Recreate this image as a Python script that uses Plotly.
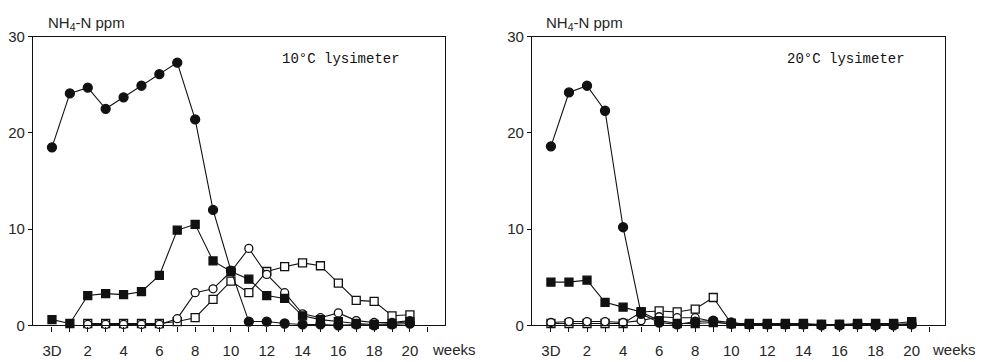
import plotly.graph_objects as go
from plotly.subplots import make_subplots

# Sampling times: 3 days (shown as "3D"), then weeks 1..20
weeks = list(range(0, 21))
label_vals = list(range(0, 21, 2))
label_text = ["3D"] + [str(w) for w in label_vals[1:]]
minor_vals = list(range(1, 22, 2))

# NH4-N (ppm) in leachate, 10 °C lysimeter
c10_filled_circle = [18.5, 24.1, 24.7, 22.5, 23.7, 24.9, 26.1, 27.3, 21.4, 12.0, 5.7,
                     0.4, 0.4, 0.2, 0.1, 0.1, 0.0, 0.1, 0.0, 0.1, 0.2]
c10_filled_square = [0.6, 0.2, 3.1, 3.3, 3.2, 3.5, 5.2, 9.9, 10.5, 6.7, 5.6,
                     4.8, 3.1, 2.8, 1.0, 0.6, 0.4, 0.2, 0.1, 0.2, 0.4]
c10_open_circle = [None, None, 0.1, 0.1, 0.1, 0.1, 0.1, 0.7, 3.4, 3.8, 5.6,
                   8.0, 5.3, 3.4, 1.2, 0.8, 1.3, 0.5, 0.3, 0.3, 0.5]
c10_open_square = [None, None, 0.2, 0.2, 0.2, 0.2, 0.2, 0.4, 0.8, 2.7, 4.6,
                   3.4, 5.6, 6.1, 6.5, 6.2, 4.4, 2.6, 2.5, 1.0, 1.1]

# NH4-N (ppm) in leachate, 20 °C lysimeter
c20_filled_circle = [18.6, 24.2, 24.9, 22.3, 10.2, 1.2, 0.3, 0.1, 0.4, 0.5, 0.3,
                     0.1, 0.1, 0.1, 0.1, 0.0, 0.0, 0.1, 0.0, 0.0, 0.1]
c20_filled_square = [4.5, 4.5, 4.7, 2.4, 1.9, 1.4, 0.5, 0.2, 0.2, 0.3, 0.2,
                     0.2, 0.2, 0.2, 0.2, 0.1, 0.1, 0.2, 0.2, 0.2, 0.4]
c20_open_circle = [0.3, 0.4, 0.4, 0.4, 0.3, 0.5, 0.9, 0.8, 0.8, 0.4, 0.1,
                   0.1, 0.1, 0.1, 0.1, 0.1, 0.1, 0.1, 0.1, 0.1, 0.1]
c20_open_square = [0.2, 0.2, 0.2, 0.2, 0.2, 1.4, 1.5, 1.4, 1.7, 2.9, 0.2,
                   0.1, 0.1, 0.1, 0.1, 0.1, 0.1, 0.1, 0.1, 0.1, 0.2]

INK = "#111111"
TXT = "#262626"

fig = make_subplots(rows=1, cols=2)


def add_series(col, ys, symbol, filled, size):
    fig.add_trace(
        go.Scatter(
            x=weeks, y=ys, mode="lines+markers",
            line=dict(color=INK, width=1.1),
            marker=dict(symbol=symbol, size=size,
                        color=INK if filled else "white",
                        line=dict(color=INK, width=1.3)),
            connectgaps=False, showlegend=False, cliponaxis=False,
        ),
        row=1, col=col,
    )


for col, series in (
    (1, (c10_open_square, c10_open_circle, c10_filled_square, c10_filled_circle)),
    (2, (c20_open_square, c20_open_circle, c20_filled_square, c20_filled_circle)),
):
    os_, oc, fs, fc = series
    add_series(col, os_, "square", False, 8)
    add_series(col, oc, "circle", False, 8)
    add_series(col, fs, "square", True, 8)
    add_series(col, fc, "circle", True, 9)

top = 1 - 29 / 362
bottom = 1 - 332 / 362

axis_common = dict(
    showgrid=False, zeroline=False, showline=True, linecolor=INK, linewidth=1.2,
    mirror=True, ticks="outside", tickcolor=INK, tickwidth=1.2,
    tickfont=dict(family="Liberation Sans", size=15, color=TXT),
)

fig.update_xaxes(**axis_common, tickmode="array", tickvals=label_vals,
                 ticktext=label_text, ticklen=5, ticklabelstandoff=6,
                 minor=dict(tickmode="array", tickvals=minor_vals, ticks="outside",
                            ticklen=5, tickwidth=1.2, tickcolor=INK, showgrid=False))
fig.update_yaxes(**axis_common, range=[0, 30], tickvals=[0, 10, 20, 30], ticklen=4)

fig.update_layout(
    xaxis=dict(domain=[33 / 988, 445 / 988], range=[-1.06, 21.96]),
    xaxis2=dict(domain=[532 / 988, 945 / 988], range=[-1.05, 21.85]),
    yaxis=dict(domain=[bottom, top]),
    yaxis2=dict(domain=[bottom, top]),
    width=988, height=362,
    margin=dict(l=0, r=0, t=0, b=0),
    plot_bgcolor="white", paper_bgcolor="white",
)

annotations = [
    dict(x=46 / 988, y=1 - 15 / 362, text="NH<sub>4</sub>-N ppm", xanchor="left"),
    dict(x=544 / 988, y=1 - 15 / 362, text="NH<sub>4</sub>-N ppm", xanchor="left"),
    dict(x=454 / 988, y=1 - 357 / 362, text="weeks", xanchor="center",
         font=dict(family="Liberation Sans", size=15, color=TXT)),
    dict(x=954 / 988, y=1 - 357 / 362, text="weeks", xanchor="center",
         font=dict(family="Liberation Sans", size=15, color=TXT)),
    dict(x=341 / 988, y=1 - 52 / 362, text="10°C lysimeter", xanchor="center",
         font=dict(family="Liberation Mono", size=14, color=INK)),
    dict(x=846 / 988, y=1 - 52 / 362, text="20°C lysimeter", xanchor="center",
         font=dict(family="Liberation Mono", size=14, color=INK)),
]
for a in annotations:
    a.setdefault("font", dict(family="Liberation Sans", size=15, color=TXT))
    fig.add_annotation(xref="paper", yref="paper", showarrow=False,
                       yanchor="middle", **a)

fig.write_html("out.html")
